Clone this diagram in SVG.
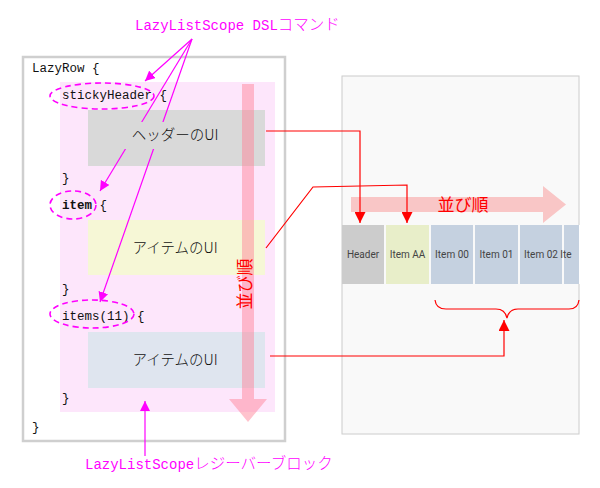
<svg xmlns="http://www.w3.org/2000/svg" width="600" height="488" viewBox="0 0 600 488">
<defs>
<style>
.code{font-family:"Liberation Mono","DejaVu Sans Mono",monospace;font-size:12.5px;fill:#111}
.jp{font-family:"Noto Sans CJK JP",sans-serif;font-size:14.5px;fill:#111;font-weight:300}
.lbl{font-family:"Liberation Mono","Noto Sans CJK JP",monospace;font-size:14px;fill:#ff00ff}
.lbl .k{font-family:"Noto Sans CJK JP",sans-serif;font-size:15.5px;font-weight:300}
.cell{font-family:Roboto,"Noto Sans",sans-serif;font-size:10px;fill:#444;text-anchor:middle}
.mg{stroke:#ff00ff;stroke-width:1.2;fill:none}
.red{stroke:#ff0000;stroke-width:1.2;fill:none}
.ell{fill:none;stroke:#ff00ff;stroke-width:1.6;stroke-dasharray:6 4}
</style>
<marker id="am" viewBox="0 0 10 10" refX="10" refY="5" markerWidth="10" markerHeight="10" markerUnits="userSpaceOnUse" orient="auto"><path d="M0,0 L10,5 L0,10 z" fill="#ff00ff"/></marker>
<marker id="ar" viewBox="0 0 10 10" refX="10" refY="5" markerWidth="11" markerHeight="11" markerUnits="userSpaceOnUse" orient="auto"><path d="M0,0 L10,5 L0,10 z" fill="#ff0000"/></marker>
</defs>
<rect width="600" height="488" fill="#ffffff"/>

<g id="code-block">
<rect x="23" y="57" width="262" height="384" fill="#ffffff" stroke="#cfcfcf" stroke-width="2.5"/>
<rect x="60" y="82" width="215" height="330" fill="#fde6fb"/>
</g>

<g id="header-ui">
<rect x="88" y="110" width="177" height="56" fill="#d9d9d9"/>
</g>
<g id="item-ui">
<rect x="88" y="220" width="177" height="55" fill="#f6f7d6"/>
<text class="jp" x="175" y="253" text-anchor="middle">アイテムのUI</text>
</g>
<g id="items-ui">
<rect x="88" y="332" width="177" height="56" fill="#dfe5ef"/>
<text class="jp" x="175" y="365" text-anchor="middle">アイテムのUI</text>
</g>

<g id="code-text">
<text class="code" x="32" y="72">LazyRow {</text>
<text class="code" x="62" y="99">stickyHeader {</text>
<text class="code" x="62" y="182">}</text>
<text class="code" x="62" y="209"><tspan font-weight="bold">item</tspan> {</text>
<text class="code" x="62" y="293">}</text>
<text class="code" x="62" y="320">items(11) {</text>
<text class="code" x="62" y="402">}</text>
<text class="code" x="32" y="431">}</text>
<ellipse class="ell" cx="102" cy="96" rx="52" ry="13"/>
<ellipse class="ell" cx="73" cy="205" rx="23" ry="14"/>
<ellipse class="ell" cx="92" cy="314" rx="42" ry="14"/>
</g>

<g id="order-vertical">
<path d="M242,84 H254 V399 H267 L248,422 L229,399 H242 Z" fill="#ff8296" opacity="0.48"/>
<text x="0" y="0" transform="translate(251,284) rotate(-90)" text-anchor="middle" font-family="Noto Sans CJK JP, sans-serif" font-size="17" fill="#ff0000">並び順</text>
</g>

<g id="phone">
<rect x="342" y="76" width="237" height="358" fill="#f9f9f9" stroke="#cccccc" stroke-width="1"/>
<path d="M351,197 H543 V186 L566,204.5 L543,223 V212 H351 Z" fill="#f9c6c6"/>
<text x="463" y="211" text-anchor="middle" font-family="Noto Sans CJK JP, sans-serif" font-size="17" fill="#ff0000">並び順</text>
<rect x="342" y="225" width="42" height="59" fill="#cccccc"/>
<rect x="386" y="225" width="43" height="59" fill="#e8eec9"/>
<rect x="431" y="225" width="42" height="59" fill="#c5d1e0"/>
<rect x="475" y="225" width="43" height="59" fill="#c5d1e0"/>
<rect x="520" y="225" width="42" height="59" fill="#c5d1e0"/>
<rect x="564" y="225" width="15" height="59" fill="#c5d1e0"/>
<text class="cell" x="363" y="258">Header</text>
<text class="cell" x="407.5" y="258">Item AA</text>
<text class="cell" x="452" y="258">Item 00</text>
<text class="cell" x="496.5" y="258">Item 01</text>
<text class="cell" x="541" y="258">Item 02</text>
<text class="cell" x="566" y="258" text-anchor="start">Ite</text>
<rect x="579" y="225" width="20" height="59" fill="#ffffff"/>
<path class="red" d="M435,300 Q436,309 446,309 H496 Q505,309 507,318 Q509,309 518,309 H569 Q578,309 579,300"/>
</g>

<g id="connectors">
<path class="mg" d="M192,39 L145,81" marker-end="url(#am)"/>
<path class="mg" d="M192,39 L100,191" marker-end="url(#am)"/>
<path class="mg" d="M192,39 L100,302" marker-end="url(#am)"/>
<path class="mg" d="M145,456 V401" marker-end="url(#am)"/>
<path class="red" d="M266,131 H360 V223" marker-end="url(#ar)"/>
<path class="red" d="M266,248 L313,187 L407,185 V223" marker-end="url(#ar)"/>
<path class="red" d="M270,356 H504 V320" marker-end="url(#ar)"/>
</g>

<g id="header-label">
<rect x="118" y="122" width="114" height="27" fill="#d9d9d9"/>
<text class="jp" x="175" y="140" text-anchor="middle">ヘッダーのUI</text>
</g>

<g id="top-label">
<text class="lbl" x="135" y="30">LazyListScope DSL<tspan class="k">コマンド</tspan></text>
</g>
<g id="bottom-label">
<text class="lbl" x="85" y="469">LazyListScope<tspan class="k">レジーバーブロック</tspan></text>
</g>
</svg>
